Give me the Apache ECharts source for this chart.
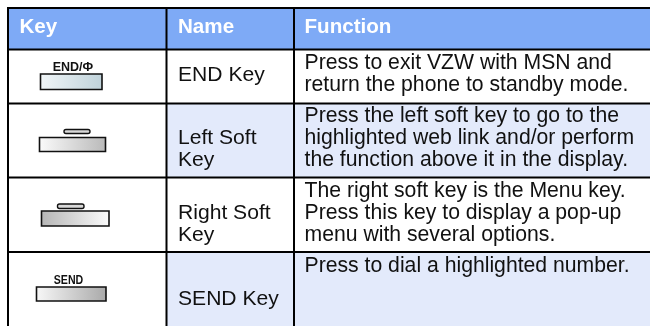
<!DOCTYPE html>
<html><head><meta charset="utf-8">
<style>html,body{margin:0;padding:0;background:#fff}#c{width:650px;height:326px}</style>
<script src="https://cdn.jsdelivr.net/npm/echarts@6/dist/echarts.min.js"></script>
</head><body><div id="c"></div>
<script>
const headers = ['Key', 'Name', 'Function'];
const names = [['END Key'], ['Left Soft', 'Key'], ['Right Soft', 'Key'], ['SEND Key']];
const functions = [
  ['Press to exit VZW with MSN and', 'return the phone to standby mode.'],
  ['Press the left soft key to go to the', 'highlighted web link and/or perform', 'the function above it in the display.'],
  ['The right soft key is the Menu key.', 'Press this key to display a pop-up', 'menu with several options.'],
  ['Press to dial a highlighted number.']
];
const keyLabels = ['END/\u0424', '', '', 'SEND'];

const colX = [8, 166.5, 294, 650];
const rowY = [8, 49.5, 103.5, 177.5, 252, 326];
const nameBase = [81, 144.5, 219, 305];
const funcBase = [69.5, 122.5, 197.5, 272.5];
const nameLead = 21.7, funcLead = 21.6;
const icons = [
  {x:40.5,y:74,w:61.5,h:15.5,from:'#f1f6f8',to:'#bfd2da',lx:73,ly:71},
  {x:39.5,y:137.5,w:66,h:14,from:'#fbfbfb',to:'#b9b9b9',pill:[64,129.5,26,4]},
  {x:41.5,y:211,w:67.5,h:15,from:'#b5b5b5',to:'#fbfbfb',pill:[57.5,204,26.5,4.5]},
  {x:36.5,y:287,w:69.5,h:14,from:'#f8f8f8',to:'#a9a9a9',lx:68.5,ly:284}
];
const FONT = '"Liberation Sans", Arial, sans-serif';
const els = [];
const rect = (x,y,w,h,fill,z=1)=>els.push({type:'rect',shape:{x,y,width:w,height:h},style:{fill},z,silent:true});
const text = (x,base,t,size,fill,weight='normal',align='left',sx=1)=>els.push({type:'text',x,y:base-size*0.28,scaleX:sx,z:5,silent:true,
  style:{text:t,fill,font:`${weight} ${size}px ${FONT}`,textAlign:align,textVerticalAlign:'middle'}});

rect(colX[0],rowY[0],colX[3]-colX[0],rowY[1]-rowY[0],'#7eaaf6');
[1,3].forEach(r=>rect(colX[1],rowY[r+1],colX[3]-colX[1],rowY[r+2]-rowY[r+1],'#e3eafb'));

const hx = [19.5, 178, 304.5];
headers.forEach((h,i)=>text(hx[i],33,h,20.6,'#ffffff','bold'));
names.forEach((ls,r)=>ls.forEach((l,i)=>text(178,nameBase[r]+i*nameLead,l,21.1,'#111111')));
functions.forEach((ls,r)=>ls.forEach((l,i)=>text(304.5,funcBase[r]+i*funcLead,l,21.2,'#111111')));

icons.forEach((k,i)=>{
  els.push({type:'rect',z:4,silent:true,shape:{x:k.x,y:k.y,width:k.w,height:k.h},
    style:{stroke:'#111',lineWidth:1.6,fill:new echarts.graphic.LinearGradient(0,0,1,0,[{offset:0,color:k.from},{offset:1,color:k.to}])}});
  if(k.pill) els.push({type:'rect',z:4,silent:true,shape:{x:k.pill[0],y:k.pill[1],width:k.pill[2],height:k.pill[3],r:2},
    style:{stroke:'#111',lineWidth:1.4,fill:'#d8d8d8'}});
  if(keyLabels[i]) text(k.lx,k.ly,keyLabels[i],12.5,'#111111','bold','center',i===3?0.85:1);
});

// grid lines
colX.slice(0,3).forEach(x=>rect(x-1,rowY[0]-1,2,326-rowY[0]+1,'#000000',3));
rowY.slice(0,5).forEach(y=>rect(colX[0]-1,y-1,650-colX[0]+1,2,'#000000',3));

const chart = echarts.init(document.getElementById('c'),null,{renderer:'canvas'});
chart.setOption({animation:false,backgroundColor:'#fff',graphic:{elements:els}});
</script></body></html>
